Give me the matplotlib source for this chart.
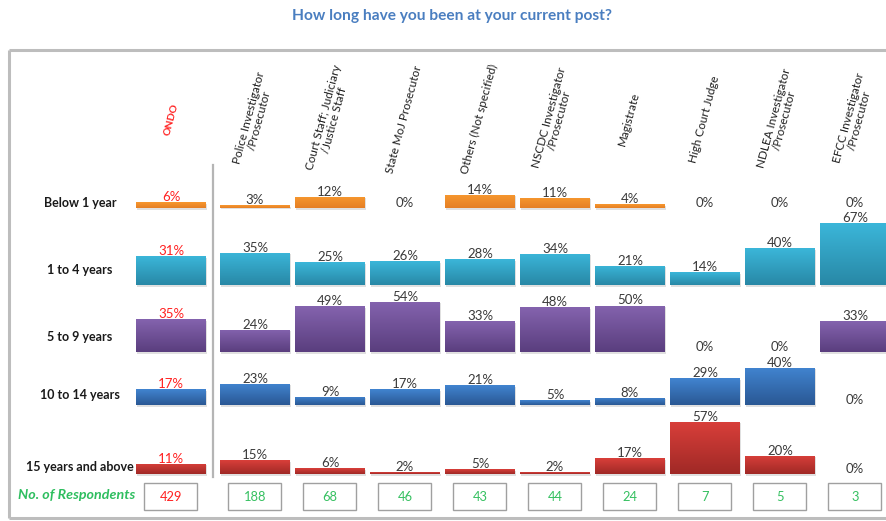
import numpy as np
import matplotlib
matplotlib.use("Agg")
import matplotlib.pyplot as plt
from matplotlib.patches import Rectangle
from matplotlib.colors import to_rgb

plt.rcParams['font.family'] = ['Lato', 'DejaVu Sans']

# ---------------- data ----------------
title = "How long have you been at your current post?"
groups = ["ONDO", "Police Investigator\n/Prosecutor", "Court Staff; Judiciary\n/Justice Staff",
          "State MoJ Prosecutor", "Others (Not specified)", "NSCDC Investigator\n/Prosecutor",
          "Magistrate", "High Court Judge", "NDLEA Investigator\n/Prosecutor",
          "EFCC Investigator\n/Prosecutor"]
rows = ["Below 1 year", "1 to 4 years", "5 to 9 years", "10 to 14 years", "15 years and above"]
below_1 = [6, 3, 12, 0, 14, 11, 4, 0, 0, 0]
y1_to_4 = [31, 35, 25, 26, 28, 34, 21, 14, 40, 67]
y5_to_9 = [35, 24, 49, 54, 33, 48, 50, 0, 0, 33]
y10_to_14 = [17, 23, 9, 17, 21, 5, 8, 29, 40, 0]
y15_plus = [11, 15, 6, 2, 5, 2, 17, 57, 20, 0]
respondents = [429, 188, 68, 46, 43, 44, 24, 7, 5, 3]

series = [below_1, y1_to_4, y5_to_9, y10_to_14, y15_plus]

# ---------------- layout / style ----------------
W, H = 887, 521
fig = plt.figure(figsize=(W / 100, H / 100), dpi=100)
ax = fig.add_axes([0, 0, 1, 1])
ax.set_xlim(0, W)
ax.set_ylim(H, 0)
ax.axis('off')

col_x = np.array([171] + [255 + 75 * k for k in range(9)], dtype=float)
bar_w = 70
baselines = [208, 285, 352, 405, 474]
scales = [0.95, 0.92, 0.93, 0.93, 0.92]
label_y = [203, 270, 337, 395, 467]
row_cols = [("#F7982F", "#E57F25"), ("#3BB6D9", "#2888A6"), ("#8463AE", "#5A3E7E"),
            ("#4184D0", "#2A5894"), ("#D93F3A", "#A02926")]

# frame
frame_c = "#BDBDBD"
ax.plot([9, W + 5], [50, 50], color=frame_c, lw=2.2, solid_capstyle='butt')
ax.plot([9, 9], [50, 518], color=frame_c, lw=2.2, solid_capstyle='butt')
ax.plot([9, W + 5], [518, 518], color=frame_c, lw=2.2, solid_capstyle='butt')
# separator
ax.plot([213, 213], [165, 477], color="#B5B5B5", lw=1.6)

# title
ax.text(452, 16, title, color="#4A7EC0", fontsize=11.2, fontweight='bold',
        ha='center', va='center')

# headers
for i, g in enumerate(groups):
    if i == 0:
        ax.text(col_x[i], 120, g, color="#FF2020", fontsize=7.5, fontweight='bold',
                rotation=75, ha='center', va='center')
    else:
        ax.text(col_x[i] - 1, 119, g, color="#1E1E1E", fontsize=8.4, rotation=75,
                ha='center', va='center', multialignment='center', linespacing=0.95)

# bars
for r, vals in enumerate(series):
    base = baselines[r]
    s = scales[r]
    top_c, bot_c = row_cols[r]
    grad = np.linspace(0, 1, 64)[:, None, None]
    img = (1 - grad) * np.array(to_rgb(bot_c)) + grad * np.array(to_rgb(top_c))
    heights = -np.array(vals, dtype=float) * s
    bars = ax.bar(col_x, heights, bottom=base, width=bar_w, color=top_c,
                  edgecolor='none', zorder=2)
    for b, v in zip(bars, vals):
        if v <= 0:
            continue
        x0 = b.get_x()
        ytop = base + b.get_height()
        # soft shadow
        ax.add_patch(Rectangle((x0 + 1.5, ytop + 1.5), bar_w, base - ytop,
                               facecolor="#000000", alpha=0.12, edgecolor='none', zorder=1))
        im = ax.imshow(img, extent=(x0, x0 + bar_w, base, ytop), origin='lower',
                       aspect='auto', zorder=3, interpolation='bilinear')
        im.set_clip_path(b)
    for i, (x, v) in enumerate(zip(col_x, vals)):
        ytxt = base - v * s - 5
        c = "#FF2020" if i == 0 else "#3A3A3A"
        ax.text(x, ytxt, f"{v}%", color=c, fontsize=9.5, ha='center', va='center', zorder=5)
    ax.text(80, label_y[r], rows[r], color="#1A1A1A", fontsize=9, fontweight='bold',
            ha='center', va='center')

# respondents row
ax.text(77, 495, "No. of Respondents", color="#2EBE5F", fontsize=10.3, fontweight='bold',
        style='italic', ha='center', va='center')
for i, (x, n) in enumerate(zip(col_x, respondents)):
    ax.add_patch(Rectangle((x - 26.5, 483), 53, 27, facecolor='white',
                           edgecolor="#A0A0A0", lw=1.0, zorder=2))
    c = "#FF2020" if i == 0 else "#35C060"
    ax.text(x, 497, str(n), color=c, fontsize=9.3, ha='center', va='center', zorder=3)

fig.savefig("out.png", dpi=100)
